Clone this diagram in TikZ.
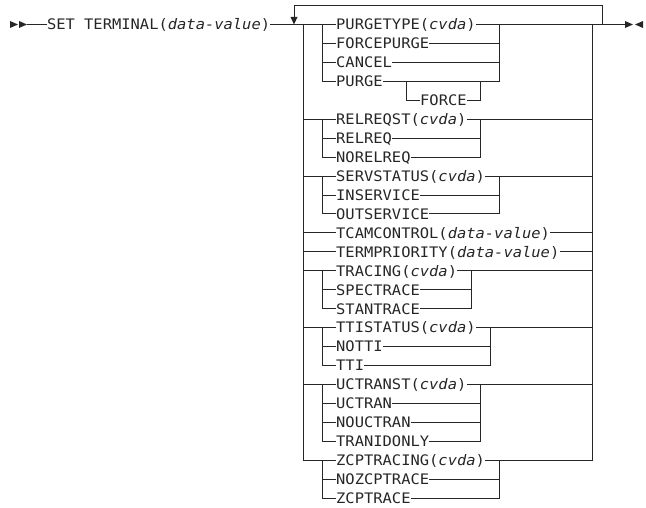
\documentclass[tikz,border=0pt]{standalone}
\usepackage{fontspec}
\usepackage{xcolor}
\usepackage{tikz}
\newfontfamily\railfont[FakeStretch=1.065]{DejaVu Sans Mono}
\definecolor{ink}{HTML}{262626}

\begin{document}
\begin{tikzpicture}[x=1pt, y=-1pt,
  kw/.style={anchor=west, inner sep=0pt, text height=10.5pt, text depth=0pt, text=ink, font=\railfont\fontsize{14.5}{16}\selectfont},
  rail/.style={draw=ink, line width=1pt},
  tip/.style={fill=ink, draw=none}]
  \useasboundingbox (0,0) rectangle (646,508);

  \coordinate (start) at (27,24.5);
  \coordinate (loopL) at (294,24.5);
  \coordinate (mainL) at (303.3,24.5);
  \coordinate (innerL) at (322,24.5);
  \coordinate (mainR) at (592.6,24.5);
  \coordinate (loopR) at (602.5,24.5);
  \coordinate (stop) at (625,24.5);
  \coordinate (g1r) at (499.3,24.5);
  \coordinate (g2r) at (480.6,24.5);
  \coordinate (g3r) at (499.3,24.5);
  \coordinate (g4r) at (471.3,24.5);
  \coordinate (g5r) at (490,24.5);
  \coordinate (g6r) at (480.6,24.5);
  \coordinate (g7r) at (499.3,24.5);
  \coordinate (forceL) at (406,81.4);
  \coordinate (forceR) at (480.6,81.4);

  \node[kw] (set) at (46.8,24.5) {SET TERMINAL(\textit{data-value})};
  \node[kw] (purgetype) at (336,24.5) {PURGETYPE(\textit{cvda})};
  \node[kw] (forcepurge) at (336,43.5) {FORCEPURGE};
  \node[kw] (cancel) at (336,62.4) {CANCEL};
  \node[kw] (purge) at (336,81.4) {PURGE};
  \node[kw] (force) at (420,100.3) {FORCE};
  \node[kw] (relreqst) at (336,119.3) {RELREQST(\textit{cvda})};
  \node[kw] (relreq) at (336,138.2) {RELREQ};
  \node[kw] (norelreq) at (336,157.2) {NORELREQ};
  \node[kw] (servstatus) at (336,176.1) {SERVSTATUS(\textit{cvda})};
  \node[kw] (inservice) at (336,195.1) {INSERVICE};
  \node[kw] (outservice) at (336,214) {OUTSERVICE};
  \node[kw] (tcamcontrol) at (336,233) {TCAMCONTROL(\textit{data-value})};
  \node[kw] (termpriority) at (336,251.9) {TERMPRIORITY(\textit{data-value})};
  \node[kw] (tracing) at (336,270.9) {TRACING(\textit{cvda})};
  \node[kw] (spectrace) at (336,289.8) {SPECTRACE};
  \node[kw] (stantrace) at (336,308.8) {STANTRACE};
  \node[kw] (ttistatus) at (336,327.7) {TTISTATUS(\textit{cvda})};
  \node[kw] (notti) at (336,346.7) {NOTTI};
  \node[kw] (tti) at (336,365.6) {TTI};
  \node[kw] (uctranst) at (336,384.6) {UCTRANST(\textit{cvda})};
  \node[kw] (uctran) at (336,403.5) {UCTRAN};
  \node[kw] (nouctran) at (336,422.5) {NOUCTRAN};
  \node[kw] (tranidonly) at (336,441.4) {TRANIDONLY};
  \node[kw] (zcptracing) at (336,460.4) {ZCPTRACING(\textit{cvda})};
  \node[kw] (nozcptrace) at (336,479.3) {NOZCPTRACE};
  \node[kw] (zcptrace) at (336,498.3) {ZCPTRACE};

  % start, repeat loop and end
  \fill[tip] (10,21) -- (10,28) -- (18,24.5) -- cycle;
  \fill[tip] (19,21) -- (19,28) -- (27,24.5) -- cycle;
  \draw[rail] (start) -- (set.west);
  \draw[rail] (set.east) -- (purgetype.west);
  \draw[rail] (purgetype.east) -- (stop);
  \draw[rail] (loopR) -- ++(0,-18.8) -| ([yshift=7pt]loopL);
  \fill[tip] ([xshift=-3.5pt,yshift=7.5pt]loopL) -- ([xshift=3.5pt,yshift=7.5pt]loopL) -- (loopL) -- cycle;
  \fill[tip] (625,21) -- (625,28) -- (633,24.5) -- cycle;
  \fill[tip] (643,21) -- (643,28) -- (635,24.5) -- cycle;

  % main choice
  \draw[rail] (mainL) |- (zcptracing.west);
  \draw[rail] (mainR) |- (zcptracing.east);
  \draw[rail] (mainL |- relreqst.west) -- (relreqst.west);
  \draw[rail] (relreqst.east) -- (relreqst.east -| mainR);
  \draw[rail] (mainL |- servstatus.west) -- (servstatus.west);
  \draw[rail] (servstatus.east) -- (servstatus.east -| mainR);
  \draw[rail] (mainL |- tcamcontrol.west) -- (tcamcontrol.west);
  \draw[rail] (tcamcontrol.east) -- (tcamcontrol.east -| mainR);
  \draw[rail] (mainL |- termpriority.west) -- (termpriority.west);
  \draw[rail] (termpriority.east) -- (termpriority.east -| mainR);
  \draw[rail] (mainL |- tracing.west) -- (tracing.west);
  \draw[rail] (tracing.east) -- (tracing.east -| mainR);
  \draw[rail] (mainL |- ttistatus.west) -- (ttistatus.west);
  \draw[rail] (ttistatus.east) -- (ttistatus.east -| mainR);
  \draw[rail] (mainL |- uctranst.west) -- (uctranst.west);
  \draw[rail] (uctranst.east) -- (uctranst.east -| mainR);

  % purge group
  \draw[rail] (innerL |- purgetype.west) |- (purge.west);
  \draw[rail] (innerL |- forcepurge.west) -- (forcepurge.west);
  \draw[rail] (innerL |- cancel.west) -- (cancel.west);
  \draw[rail] (forcepurge.east) -- (forcepurge.east -| g1r);
  \draw[rail] (cancel.east) -- (cancel.east -| g1r);
  \draw[rail] (purge.east) -| (g1r);
  \draw[rail] (forceL) |- (force.west);
  \draw[rail] (force.east) -| (forceR);

  % relreq group
  \draw[rail] (innerL |- relreqst.west) |- (norelreq.west);
  \draw[rail] (innerL |- relreq.west) -- (relreq.west);
  \draw[rail] (relreq.east) -- (relreq.east -| g2r);
  \draw[rail] (norelreq.east) -| (g2r |- relreqst.east);

  % servstatus group
  \draw[rail] (innerL |- servstatus.west) |- (outservice.west);
  \draw[rail] (innerL |- inservice.west) -- (inservice.west);
  \draw[rail] (inservice.east) -- (inservice.east -| g3r);
  \draw[rail] (outservice.east) -| (g3r |- servstatus.east);

  % tracing group
  \draw[rail] (innerL |- tracing.west) |- (stantrace.west);
  \draw[rail] (innerL |- spectrace.west) -- (spectrace.west);
  \draw[rail] (spectrace.east) -- (spectrace.east -| g4r);
  \draw[rail] (stantrace.east) -| (g4r |- tracing.east);

  % tti group
  \draw[rail] (innerL |- ttistatus.west) |- (tti.west);
  \draw[rail] (innerL |- notti.west) -- (notti.west);
  \draw[rail] (notti.east) -- (notti.east -| g5r);
  \draw[rail] (tti.east) -| (g5r |- ttistatus.east);

  % uctran group
  \draw[rail] (innerL |- uctranst.west) |- (tranidonly.west);
  \draw[rail] (innerL |- uctran.west) -- (uctran.west);
  \draw[rail] (innerL |- nouctran.west) -- (nouctran.west);
  \draw[rail] (uctran.east) -- (uctran.east -| g6r);
  \draw[rail] (nouctran.east) -- (nouctran.east -| g6r);
  \draw[rail] (tranidonly.east) -| (g6r |- uctranst.east);

  % zcptrace group
  \draw[rail] (innerL |- zcptracing.west) |- (zcptrace.west);
  \draw[rail] (innerL |- nozcptrace.west) -- (nozcptrace.west);
  \draw[rail] (nozcptrace.east) -- (nozcptrace.east -| g7r);
  \draw[rail] (zcptrace.east) -| (g7r |- zcptracing.east);
\end{tikzpicture}
\end{document}
